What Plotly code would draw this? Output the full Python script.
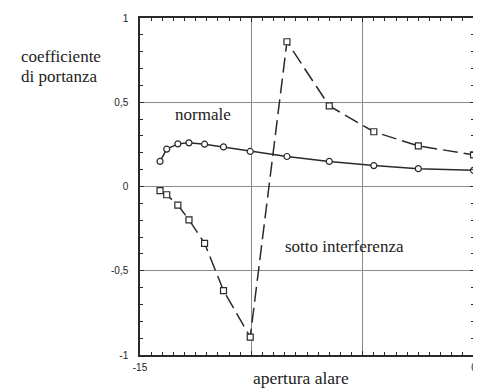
import plotly.graph_objects as go

x_vals = [-14.1, -13.8, -13.3, -12.8, -12.1, -11.25, -10.05, -8.4, -6.5, -4.5, -2.5, -0.02]
normale = [0.149, 0.222, 0.253, 0.259, 0.251, 0.235, 0.208, 0.178, 0.149, 0.124, 0.106, 0.096]
interferenza = [-0.024, -0.049, -0.110, -0.198, -0.337, -0.618, -0.894, 0.859, 0.478, 0.325, 0.241, 0.188]

y_tickvals = [-1, -0.5, 0, 0.5, 1]
y_ticktext = ["-1", "-0,5", "0", "0,5", "1"]
x_tickvals = [-15, -10, -5, 0]
x_ticktext = ["-15", "", "", "0"]

ink = "#2a2a2a"
grid = "#8a8a8a"

fig = go.Figure()
fig.add_trace(go.Scatter(
    x=x_vals, y=interferenza, mode="lines+markers",
    line=dict(color=ink, width=1.5, dash="15px,6px"),
    marker=dict(symbol="square", size=6, color="white", line=dict(color=ink, width=1.2)),
    showlegend=False))
fig.add_trace(go.Scatter(
    x=x_vals, y=normale, mode="lines+markers",
    line=dict(color=ink, width=1.5),
    marker=dict(symbol="circle", size=6, color="white", line=dict(color=ink, width=1.2)),
    showlegend=False))

axis_common = dict(
    showline=True, linecolor=ink, linewidth=1.5, mirror="allticks",
    showgrid=True, gridcolor=grid, gridwidth=1, zeroline=False,
    ticks="inside", ticklen=4, tickcolor=ink,
    tickfont=dict(family="Liberation Sans", size=10, color="#222"),
)
fig.update_xaxes(range=[-15, 0], tickmode="array", tickvals=x_tickvals, ticktext=x_ticktext,
                 minor=dict(dtick=0.5, tick0=-15, ticks="inside", ticklen=3, tickcolor=ink, showgrid=False),
                 ticklabelstandoff=2, **axis_common)
fig.update_yaxes(range=[-1, 1], tickmode="array", tickvals=y_tickvals, ticktext=y_ticktext,
                 minor=dict(dtick=0.1, tick0=-1, ticks="inside", ticklen=3, tickcolor=ink, showgrid=False),
                 ticklabelstandoff=8, **axis_common)

serif = dict(family="'Liberation Serif', 'DejaVu Serif', serif", size=17, color="#222")
# plot area: 337 x 338 px, left edge at page x=140, top at y=17
fig.add_annotation(text="coefficiente", xref="paper", yref="paper",
                   x=-0.362, y=0.885, xanchor="left", yanchor="middle", showarrow=False, font=serif)
fig.add_annotation(text="di portanza", xref="paper", yref="paper",
                   x=-0.362, y=0.826, xanchor="left", yanchor="middle", showarrow=False, font=serif)
fig.add_annotation(text="normale", x=-13.5, y=0.43, xanchor="left", yanchor="middle",
                   showarrow=False, font=serif)
fig.add_annotation(text="sotto interferenza", x=-8.6, y=-0.355, xanchor="left", yanchor="middle",
                   showarrow=False, font=serif)
fig.add_annotation(text="apertura alare", xref="paper", yref="paper", x=0.481, y=-0.069,
                   xanchor="center", yanchor="middle", showarrow=False, font=dict(serif, size=17.5))

# the page body has an 8px margin: shrink the figure so the plot area lands where the reference has it
fig.update_layout(width=473, height=381, margin=dict(l=132, r=4, t=9, b=34),
                  plot_bgcolor="white", paper_bgcolor="white")
fig.write_html("out.html")
